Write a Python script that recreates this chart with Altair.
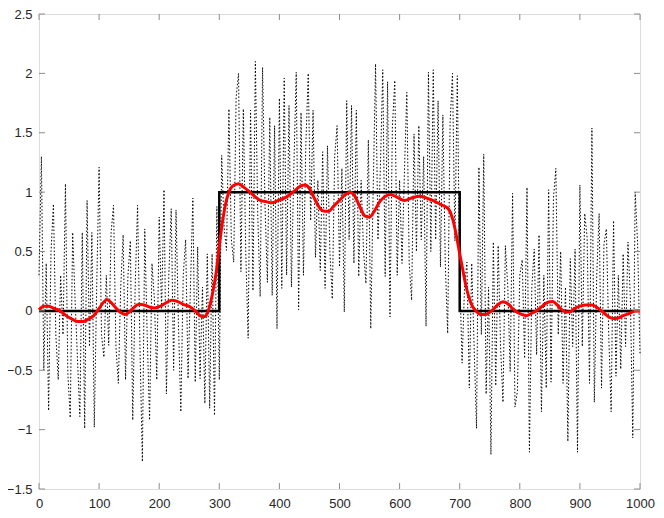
import altair as alt
import pandas as pd

# noisy observed signal (x every 4 units)
noise_x = list(range(0, 1001, 4))
noise_y = [
    0.3, 1.3, -0.5, 0.4, -0.84, 0.5, 0.9, -0.2, -0.58, 0.3, -0.2, 1.07, -0.53, -0.9, 0.66, 0.1,
    -0.4, -0.89, 0.66, -0.99, 0.93, -0.3, 0.66, -0.98, 0.2, 1.21, -0.2, -0.39, 0.3, -0.29, 0.66, 0.89,
    -0.3, -0.61, 0.2, 0.64, -0.58, 0.3, 0.59, -0.92, 0.2, 0.89, -0.3, -1.27, 0.69, -0.2, -0.92, 0.4,
    0.1, -0.58, 0.79, 0.0, 1.02, -0.70, 0.3, 0.86, -0.5, 0.85, -0.1, -0.85, 0.3, 0.6, -0.57, 0.2,
    0.95, -0.6, 0.54, -0.57, 0.2, -0.78, 0.48, -0.82, 0.48, -0.88, 0.88,
    -0.58, 1.31, 0.7, 0.51, 1.70, 0.6, 0.41, 1.80, 2.0, 0.33, 1.70, 0.5, -0.23, 1.69, 0.17, 2.10,
    0.8, 0.12, 2.05, 0.9, 0.24, 1.63, 0.13, 1.56, -0.15, 1.79, 0.19, 1.96, 0.3, 1.73, 0.2, 1.2,
    2.01, 0.01, 1.67, 0.3, 1.4, 2.0, 0.76, 1.69, 0.45, 1.1, 0.34, 1.34, 0.19, 1.39, 0.5, 0.10,
    1.30, 1.56, 0.37, 1.2, -0.01, 1.77, 0.6, 1.73, 0.4, 1.69, 0.29, 1.1, 0.5, 0.23, 1.44, -0.15,
    1.0, 2.08, 0.6, 1.2, 2.03, 0.29, 1.93, -0.05, 1.55, 1.94, 0.3, 1.1, 0.4, 1.16, 1.84, 0.4,
    0.09, 1.49, 0.5, 1.56, 0.6, 1.3, -0.13, 2.01, 0.5, 2.03, 0.6, 1.77, 0.37, 1.65, 0.4, -0.19,
    1.58, 2.0, 0.59, 1.98, 0.3,
    -0.44, 0.2, 0.41, -0.65, 0.40, -0.3, -0.99, 1.21, -0.2, 1.32, -0.7, 0.2, -1.21, 0.58, -0.63,
    0.55, -0.3, -0.77, 0.55, 0.2, -0.51, 0.99, -0.81, -0.68, 0.3, 0.43, -0.4, 1.04, -1.19, 0.2,
    0.52, -0.37, 0.64, -0.85, 0.3, -0.65, 1.02, -0.6, 0.95, 1.20, -0.2, 0.5, -0.61, 0.2, -1.10,
    0.44, -0.3, 0.52, -1.19, 1.06, -0.3, 0.82, 0.62, -0.61, 1.54, -0.77, 0.3, 0.82, -0.65, 0.56,
    0.69, -0.2, -0.85, 0.76, -0.55, 0.3, -0.49, 0.48, -0.3, 0.58, 0.1, -1.07, 1.0, 0.57, -0.36,
]

# true step signal
step_x = [0, 300, 300, 700, 700, 1000]
step_y = [0, 0, 1, 1, 0, 0]

# smoothed estimate
smooth_x = [0, 8, 16, 25, 35, 45, 55, 65, 73, 82, 91, 100, 107, 113, 120, 127, 135, 143, 150, 158,
            166, 175, 185, 193, 202, 212, 221, 230, 240, 251, 260, 268, 274, 280, 285, 290, 295, 300,
            305, 310, 316, 322, 332, 341, 351, 360, 368, 378, 387, 398, 412, 425, 435, 443, 450, 456,
            462, 468, 475, 482, 490, 500, 510, 518, 525, 534, 542, 550, 558, 567, 575, 584, 595, 608,
            620, 633, 645, 655, 667, 675, 681, 686, 690, 695, 700, 705, 710, 715, 720, 727, 735, 743,
            753, 763, 772, 780, 788, 795, 803, 811, 820, 830, 840, 848, 855, 862, 870, 877, 883, 891,
            900, 910, 920, 928, 936, 945, 955, 964, 972, 983, 992, 1000]
smooth_y = [0.01, 0.04, 0.04, 0.02, 0.0, -0.04, -0.07, -0.09, -0.09, -0.07, -0.04, 0.02, 0.07, 0.095,
            0.07, 0.03, -0.01, -0.03, -0.01, 0.03, 0.055, 0.05, 0.03, 0.025, 0.04, 0.07, 0.09, 0.08,
            0.055, 0.035, 0.0, -0.04, -0.05, -0.02, 0.06, 0.18, 0.33, 0.55, 0.74, 0.89, 1.0, 1.05, 1.07,
            1.04, 1.0, 0.96, 0.93, 0.92, 0.91, 0.93, 0.96, 1.01, 1.05, 1.06, 1.03, 0.97, 0.91, 0.86,
            0.84, 0.84, 0.88, 0.93, 0.98, 1.0, 0.97, 0.875, 0.8, 0.79, 0.84, 0.92, 0.96, 0.98, 0.96,
            0.93, 0.95, 0.965, 0.95, 0.93, 0.90, 0.88, 0.86, 0.81, 0.74, 0.62, 0.48, 0.35, 0.22, 0.12,
            0.05, 0.0, -0.03, -0.03, 0.0, 0.05, 0.076, 0.06, 0.02, -0.01, -0.03, -0.04, -0.02, 0.01,
            0.05, 0.075, 0.08, 0.05, 0.01, -0.01, -0.01, 0.02, 0.04, 0.05, 0.05, 0.03, 0.0, -0.04,
            -0.065, -0.06, -0.04, -0.02, 0.0, 0.0]

x_ticks = list(range(0, 1001, 100))
y_ticks = [-1.5, -1, -0.5, 0, 0.5, 1, 1.5, 2, 2.5]

W, H = 601, 475
AX = "#8c8c8c"
FS = 13

noise_df = pd.DataFrame({"x": noise_x, "y": noise_y})
step_df = pd.DataFrame({"x": step_x, "y": step_y, "o": list(range(len(step_x)))})
smooth_df = pd.DataFrame({"x": smooth_x, "y": smooth_y})
xt_df = pd.DataFrame({"v": x_ticks})
yt_df = pd.DataFrame({"v": y_ticks})

xscale = alt.Scale(domain=[0, 1000], nice=False, zero=False)
yscale = alt.Scale(domain=[-1.5, 2.5], nice=False, zero=False)

xaxis = alt.Axis(values=x_ticks, tickSize=0, domain=False, grid=False, labelFontSize=FS,
                 labelColor="#262626", labelFont="Liberation Sans", labelPadding=8, title=None,
                 format="d", labelFlush=False, labelOverlap=False)
yaxis = alt.Axis(values=y_ticks, tickSize=0, domain=False, grid=False, labelFontSize=FS,
                 labelColor="#262626", labelFont="Liberation Sans", labelPadding=7, title=None,
                 labelExpr="format(datum.value, '~g')", labelFlush=False, labelOverlap=False)

noise = alt.Chart(noise_df).mark_line(color="black", strokeWidth=1, strokeDash=[1.5, 2]).encode(
    x=alt.X("x:Q", scale=xscale, axis=xaxis),
    y=alt.Y("y:Q", scale=yscale, axis=yaxis),
)
step = alt.Chart(step_df).mark_line(color="black", strokeWidth=2.5).encode(
    x=alt.X("x:Q", scale=xscale), y=alt.Y("y:Q", scale=yscale), order="o:Q"
)
smooth = alt.Chart(smooth_df).mark_line(color="#ff0000", strokeWidth=3, interpolate="monotone").encode(
    x=alt.X("x:Q", scale=xscale), y=alt.Y("y:Q", scale=yscale)
)

tl = 6
xt_bot = alt.Chart(xt_df).mark_rule(color=AX, strokeWidth=1).encode(
    x=alt.X("v:Q", scale=xscale), y=alt.value(H), y2=alt.value(H - tl))
xt_top = alt.Chart(xt_df).mark_rule(color=AX, strokeWidth=1).encode(
    x=alt.X("v:Q", scale=xscale), y=alt.value(0), y2=alt.value(tl))
yt_l = alt.Chart(yt_df).mark_rule(color=AX, strokeWidth=1).encode(
    y=alt.Y("v:Q", scale=yscale), x=alt.value(0), x2=alt.value(tl))
yt_r = alt.Chart(yt_df).mark_rule(color=AX, strokeWidth=1).encode(
    y=alt.Y("v:Q", scale=yscale), x=alt.value(W), x2=alt.value(W - tl))

chart = alt.layer(noise, step, smooth, xt_bot, xt_top, yt_l, yt_r).properties(
    width=W, height=H,
    autosize=alt.AutoSizeParams(type="none"),
    padding={"left": 31, "top": 6, "right": 16, "bottom": 21},
).configure_view(stroke=AX, strokeWidth=1).configure(background="white")

chart.save("out.html", embed_options={"renderer": "svg", "actions": False})
